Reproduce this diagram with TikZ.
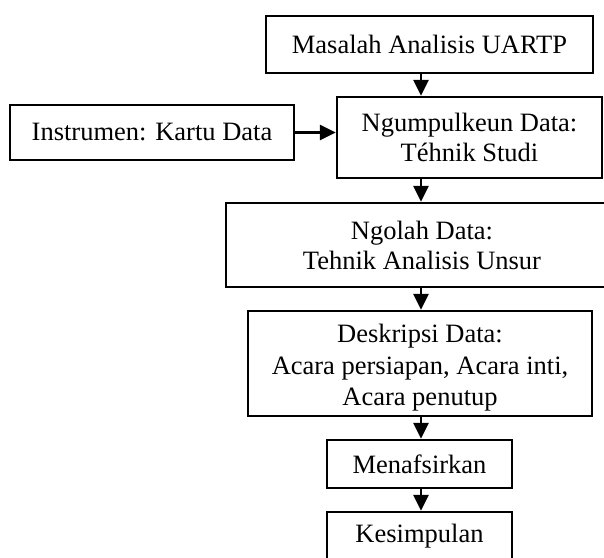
\documentclass[tikz,border=0pt]{standalone}
\usepackage{fontspec}
\setmainfont{Liberation Serif}
\usetikzlibrary{arrows.meta}
\tikzset{
  box/.style={draw=black, line width=2.4pt, rectangle, inner sep=0pt, align=center,
    font=\fontsize{26.5}{30}\selectfont},
  txt/.style={inner sep=0pt, align=center, font=\fontsize{26.5}{31.5}\selectfont},
  arr/.style={line width=2.6pt, -{Triangle[length=16pt,width=15pt]}}
}
\begin{document}
\begin{tikzpicture}[x=1pt,y=-1pt]
\useasboundingbox (0,0) rectangle (604,557);
\clip (0,0) rectangle (604,557);
\node[box, minimum width=327pt, minimum height=57pt] (B1) at (429.5,44.5) {Masalah Analisis UARTP};
\node[box, minimum width=265pt, minimum height=81pt] (B2) at (469.5,137.5) {Ngumpulkeun Data:\\Téhnik Studi};
\node[box, minimum width=284pt, minimum height=55pt] (I) at (152,132.5) {Instrumen: Kartu Data};
\node[box, minimum width=392pt, minimum height=84pt] (B3) at (422,245) {Ngolah Data:\\Tehnik Analisis Unsur};
\node[box, minimum width=344pt, minimum height=105pt] (B4) at (420,363.5) {};
\node[txt] (B4t) at (420,368) {Deskripsi Data:\\Acara persiapan, Acara inti,\\Acara penutup};
\node[box, minimum width=185pt, minimum height=48pt] (B5) at (419.5,464) {Menafsirkan};
\node[box, minimum width=185pt, minimum height=48pt] (B6) at (419.5,536) {Kesimpulan};
\coordinate (ax) at (421,0);
\draw[arr] (B1.south -| ax) -- (B2.north -| ax);
\draw[arr] (B2.south -| ax) -- (B3.north -| ax);
\draw[arr] (B3.south -| ax) -- (B4.north -| ax);
\draw[arr] (B4.south -| ax) -- (B5.north -| ax);
\draw[arr] (B5.south -| ax) -- (B6.north -| ax);
\draw[arr] (I.east) -- (I.east -| B2.west);
\end{tikzpicture}
\end{document}
